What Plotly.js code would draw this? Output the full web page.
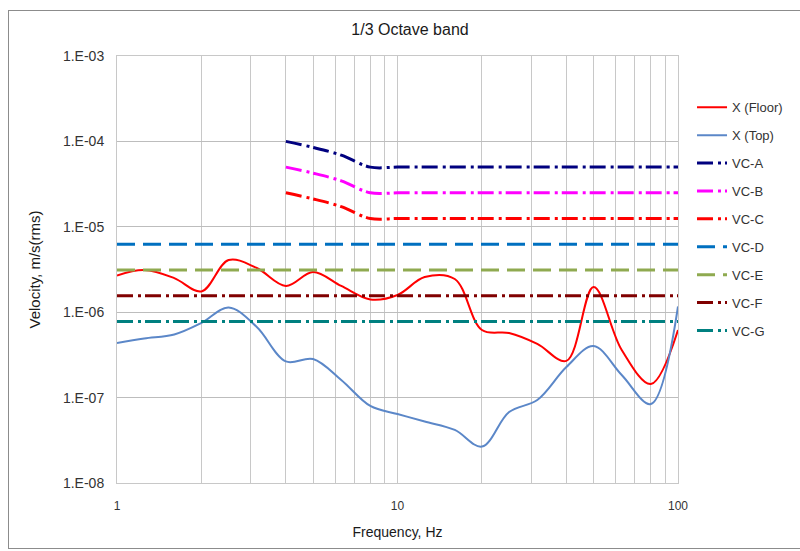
<!DOCTYPE html>
<html>
<head>
<meta charset="utf-8">
<script src="https://cdn.plot.ly/plotly-3.0.1.min.js"></script>
<style>
  html, body { margin: 0; padding: 0; background: #ffffff; }
  #chart { width: 800px; height: 551px; position: relative; }
  #frame { position: absolute; left: 8px; top: 10px; width: 820px; height: 537px;
           border: 1px solid #8c8c8c; pointer-events: none; }
</style>
</head>
<body>
<div id="chart"></div>
<div id="frame"></div>
<script>
// 1/3 octave band centre frequencies (Hz)
const freqs = [1, 1.25, 1.6, 2, 2.5, 3.15, 4, 5, 6.3, 8, 10, 12.5, 16, 20, 25, 31.5, 40, 50, 63, 80, 100];

// Measured velocities, m/s (rms)
const floorX = [2.69e-6, 3.12e-6, 2.51e-6, 1.75e-6, 4.08e-6, 3.29e-6, 2.03e-6, 2.96e-6, 2.03e-6, 1.41e-6,
                1.59e-6, 2.58e-6, 2.45e-6, 6.19e-7, 5.70e-7, 4.25e-7, 2.69e-7, 1.97e-6, 3.61e-7, 1.44e-7, 6.19e-7];
const topX   = [4.36e-7, 4.92e-7, 5.48e-7, 7.48e-7, 1.135e-6, 6.71e-7, 2.65e-7, 2.83e-7, 1.61e-7, 7.98e-8,
                6.43e-8, 5.25e-8, 4.18e-8, 2.67e-8, 6.78e-8, 9.37e-8, 2.28e-7, 4.02e-7, 1.84e-7, 8.41e-8, 1.17e-6];

// VC criteria curves
const vcFreqs = [4, 5, 6.3, 8, 10, 12.5, 16, 20, 25, 31.5, 40, 50, 63, 80, 100];
const vcA = [1.0e-4, 8.5e-5, 6.9e-5, 5.0e-5, 5.0e-5, 5.0e-5, 5.0e-5, 5.0e-5, 5.0e-5, 5.0e-5, 5.0e-5, 5.0e-5, 5.0e-5, 5.0e-5, 5.0e-5];
const vcB = [5.0e-5, 4.25e-5, 3.45e-5, 2.5e-5, 2.5e-5, 2.5e-5, 2.5e-5, 2.5e-5, 2.5e-5, 2.5e-5, 2.5e-5, 2.5e-5, 2.5e-5, 2.5e-5, 2.5e-5];
const vcC = [2.5e-5, 2.12e-5, 1.72e-5, 1.25e-5, 1.25e-5, 1.25e-5, 1.25e-5, 1.25e-5, 1.25e-5, 1.25e-5, 1.25e-5, 1.25e-5, 1.25e-5, 1.25e-5, 1.25e-5];
const flatFreqs = [1, 100];
const vcD = [6.25e-6, 6.25e-6];
const vcE = [3.12e-6, 3.12e-6];
const vcF = [1.56e-6, 1.56e-6];
const vcG = [7.8e-7, 7.8e-7];

const seriesNames = ['X (Floor)', 'X (Top)', 'VC-A', 'VC-B', 'VC-C', 'VC-D', 'VC-E', 'VC-F', 'VC-G'];

// Axis ticks
const xTickVals = [1, 2, 3, 4, 5, 6, 7, 8, 9, 10, 20, 30, 40, 50, 60, 70, 80, 90, 100];
const xTickText = ['1', '', '', '', '', '', '', '', '', '10', '', '', '', '', '', '', '', '', '100'];
const yTickVals = [1e-8, 1e-7, 1e-6, 1e-5, 1e-4, 1e-3];
const yTickText = ['1.E-08', '1.E-07', '1.E-06', '1.E-05', '1.E-04', '1.E-03'];

const dashDot = '16px,5px,3px,4px';
const dashLong = '18px,8px';

function tr(i, x, y, color, width, dash) {
  return {
    x: x, y: y, name: seriesNames[i], type: 'scatter', mode: 'lines',
    legendgroup: 'g' + i,
    line: { color: color, width: width, dash: dash, shape: 'spline', smoothing: 1 },
    hoverinfo: 'skip'
  };
}

const data = [
  tr(0, freqs, floorX, '#ff0000', 2, 'solid'),
  tr(1, freqs, topX, '#5b87c8', 2, 'solid'),
  tr(2, vcFreqs, vcA, '#00007f', 3, dashDot),
  tr(3, vcFreqs, vcB, '#ff00ff', 3, dashDot),
  tr(4, vcFreqs, vcC, '#ff0000', 3, dashDot),
  tr(5, flatFreqs, vcD, '#0070c0', 3, dashLong),
  tr(6, flatFreqs, vcE, '#8faa50', 3, dashLong),
  tr(7, flatFreqs, vcF, '#800000', 3, dashDot),
  tr(8, flatFreqs, vcG, '#008080', 3, dashDot)
];

const fontFam = '"Liberation Sans", Arial, sans-serif';

const layout = {
  width: 800, height: 551,
  margin: { l: 117, r: 122, t: 56, b: 68 },
  paper_bgcolor: 'rgba(0,0,0,0)',
  plot_bgcolor: '#ffffff',
  font: { family: fontFam, size: 12, color: '#333333' },
  title: { text: '1/3 Octave band', font: { family: fontFam, size: 16, color: '#1a1a1a' },
           x: 410 / 800, xref: 'container', xanchor: 'center', y: 1 - 29 / 551, yref: 'container', yanchor: 'middle' },
  showlegend: true,
  legend: {
    x: 1.025, xanchor: 'left', y: 0.915, yanchor: 'top',
    font: { family: fontFam, size: 13, color: '#333333' },
    bgcolor: 'rgba(0,0,0,0)', borderwidth: 0, tracegroupgap: 8,
    itemclick: false
  },
  xaxis: {
    type: 'log', range: [0, 2],
    tickmode: 'array', tickvals: xTickVals, ticktext: xTickText,
    showgrid: true, gridcolor: '#c8c8c8', gridwidth: 1,
    showline: true, linecolor: '#c8c8c8', mirror: true,
    ticks: 'outside', ticklen: 12, tickcolor: 'rgba(0,0,0,0)', zeroline: false,
    tickfont: { family: fontFam, size: 12, color: '#333333' },
    title: { text: 'Frequency, Hz', font: { family: fontFam, size: 14, color: '#1a1a1a' }, standoff: 14 }
  },
  yaxis: {
    type: 'log', range: [-8, -3],
    tickmode: 'array', tickvals: yTickVals, ticktext: yTickText,
    showgrid: true, gridcolor: '#bdbdbd', gridwidth: 1,
    showline: true, linecolor: '#c8c8c8', mirror: true,
    ticks: 'outside', ticklen: 9, tickcolor: 'rgba(0,0,0,0)',
    zeroline: false,
    tickfont: { family: fontFam, size: 14, color: '#333333' },
    title: { text: 'Velocity, m/s(rms)', font: { family: fontFam, size: 15, color: '#1a1a1a' }, standoff: 18 }
  }
};

Plotly.newPlot('chart', data, layout, { staticPlot: true, displayModeBar: false });
</script>
</body>
</html>
